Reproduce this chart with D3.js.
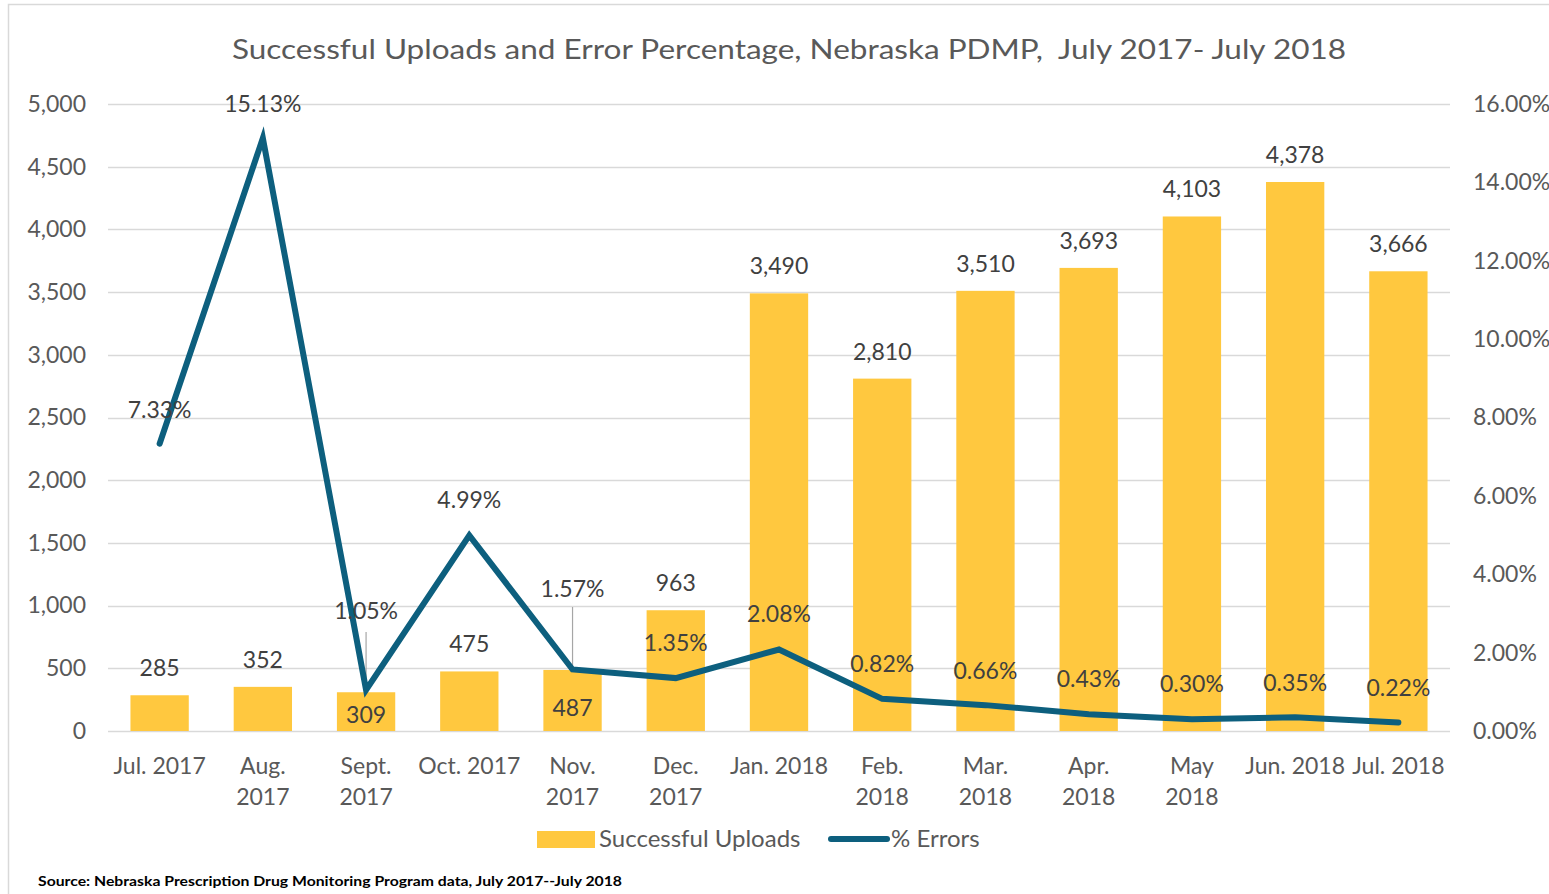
<!DOCTYPE html>
<html>
<head>
<meta charset="utf-8">
<script src="https://cdn.jsdelivr.net/npm/d3@7"></script>
<style>
  html, body { margin: 0; padding: 0; background: #fff; }
  svg { display: block; font-family: Lato, "Noto Sans", sans-serif; }
  .pre { white-space: pre; }
</style>
</head>
<body>
<svg id="chart" width="1549" height="894"></svg>
<script>
// ---- data ----
const categories = ["Jul. 2017","Aug. 2017","Sept. 2017","Oct. 2017","Nov. 2017","Dec. 2017","Jan. 2018","Feb. 2018","Mar. 2018","Apr. 2018","May 2018","Jun. 2018","Jul. 2018"];
const categoryLines = [["Jul. 2017"],["Aug.","2017"],["Sept.","2017"],["Oct. 2017"],["Nov.","2017"],["Dec.","2017"],["Jan. 2018"],["Feb.","2018"],["Mar.","2018"],["Apr.","2018"],["May","2018"],["Jun. 2018"],["Jul. 2018"]];
const uploads = [285, 352, 309, 475, 487, 963, 3490, 2810, 3510, 3693, 4103, 4378, 3666];
const errorPct = [7.33, 15.13, 1.05, 4.99, 1.57, 1.35, 2.08, 0.82, 0.66, 0.43, 0.30, 0.35, 0.22];
const uploadLabelInside = [false, false, true, false, true, false, false, false, false, false, false, false, false];
const leftTicks = [0, 500, 1000, 1500, 2000, 2500, 3000, 3500, 4000, 4500, 5000];
const rightTicks = [0, 2, 4, 6, 8, 10, 12, 14, 16];
const titleText = "Successful Uploads and Error Percentage, Nebraska PDMP,  July 2017- July 2018";
const sourceText = "Source: Nebraska Prescription Drug Monitoring Program data, July 2017--July 2018";

// ---- layout ----
const svg = d3.select("#chart");
const plot = { left: 108, right: 1450, top: 104, bottom: 731 };
const barColor = "#FFC83F";
const lineColor = "#0D5F7E";
const textColor = "#595959";
const labelColor = "#404040";
const fs = "23px";

// frame
svg.append("rect").attr("x", 8.5).attr("y", 4.5).attr("width", 1560).attr("height", 920)
  .attr("fill", "none").attr("stroke", "#d9d9d9").attr("stroke-width", 1.5);

const x = d3.scaleBand().domain(categories).range([plot.left, plot.right]).paddingInner(0.435).paddingOuter(0.2175);
const yL = d3.scaleLinear().domain([0, 5000]).range([plot.bottom, plot.top]);
const yR = d3.scaleLinear().domain([0, 16]).range([plot.bottom, plot.top]);
const cx = c => x(c) + x.bandwidth() / 2;

// title
svg.append("text").attr("class", "pre").attr("x", 789).attr("y", 59).attr("text-anchor", "middle")
  .attr("fill", textColor).style("font-size", "26px")
  .attr("textLength", 1114).attr("lengthAdjust", "spacingAndGlyphs")
  .text(titleText);

// gridlines
svg.append("g").selectAll("line").data(leftTicks).join("line")
  .attr("x1", plot.left).attr("x2", plot.right)
  .attr("y1", d => Math.round(yL(d)) + 0.5).attr("y2", d => Math.round(yL(d)) + 0.5)
  .attr("stroke", "#d9d9d9").attr("stroke-width", 1.5);

// left axis
const fmt = d3.format(",");
const axL = svg.append("g").attr("transform", `translate(${plot.left - 22},0)`)
  .call(d3.axisLeft(yL).tickValues(leftTicks).tickFormat(fmt).tickSize(0).tickPadding(0));
axL.select(".domain").remove();
axL.selectAll("text").attr("fill", textColor).style("font-size", fs).style("font-family", "Lato, 'Noto Sans', sans-serif");

// right axis
const axR = svg.append("g").attr("transform", `translate(${plot.right + 23},0)`)
  .call(d3.axisRight(yR).tickValues(rightTicks).tickFormat(d => d.toFixed(2) + "%").tickSize(0).tickPadding(0));
axR.select(".domain").remove();
axR.selectAll("text").attr("fill", textColor).style("font-size", fs).style("font-family", "Lato, 'Noto Sans', sans-serif");

// bars
svg.append("g").selectAll("rect").data(categories).join("rect")
  .attr("x", d => x(d)).attr("width", x.bandwidth())
  .attr("y", (d, i) => yL(uploads[i])).attr("height", (d, i) => yL(0) - yL(uploads[i]))
  .attr("fill", barColor);

// x axis labels
const xl = svg.append("g");
categories.forEach((c, i) => {
  const t = xl.append("text").attr("x", cx(c)).attr("y", 774).attr("text-anchor", "middle")
    .attr("fill", textColor).style("font-size", fs);
  categoryLines[i].forEach((ln, j) => {
    t.append("tspan").attr("x", cx(c)).attr("dy", j === 0 ? 0 : 31).text(ln);
  });
});

// bar value labels
const insideOffset = [0, 0, 31, 0, 46, 0, 0, 0, 0, 0, 0, 0, 0];
svg.append("g").selectAll("text").data(categories).join("text")
  .attr("x", d => cx(d))
  .attr("y", (d, i) => uploadLabelInside[i] ? yL(uploads[i]) + insideOffset[i] : yL(uploads[i]) - 19)
  .attr("text-anchor", "middle").attr("fill", labelColor).style("font-size", fs)
  .text((d, i) => fmt(uploads[i]));

// leader lines for 1.05% and 1.57%
const leaders = [{ i: 2, top: 632 }, { i: 4, top: 607 }];
svg.append("g").selectAll("line").data(leaders).join("line")
  .attr("x1", d => cx(categories[d.i])).attr("x2", d => cx(categories[d.i]))
  .attr("y1", d => d.top).attr("y2", d => yR(errorPct[d.i]))
  .attr("stroke", "#a6a6a6").attr("stroke-width", 1.2);

// line
const line = d3.line().x((d, i) => cx(categories[i])).y(d => yR(d));
svg.append("path").datum(errorPct).attr("d", line)
  .attr("fill", "none").attr("stroke", lineColor).attr("stroke-width", 6)
  .attr("stroke-linejoin", "miter").attr("stroke-linecap", "round");

// line value labels (offsets above point)
const lineLabelOffset = [34, 34, 79, 35, 80, 35, 35, 35, 34, 35, 35, 34, 34];
svg.append("g").selectAll("text").data(categories).join("text")
  .attr("x", d => cx(d))
  .attr("y", (d, i) => yR(errorPct[i]) - lineLabelOffset[i] + 8)
  .attr("text-anchor", "middle").attr("fill", labelColor).style("font-size", fs)
  .text((d, i) => errorPct[i].toFixed(2) + "%");

// legend
const lg = svg.append("g");
lg.append("rect").attr("x", 537).attr("y", 831).attr("width", 58).attr("height", 17).attr("fill", barColor);
lg.append("text").attr("x", 599).attr("y", 847).attr("fill", textColor).style("font-size", "24px").text("Successful Uploads");
lg.append("line").attr("x1", 831).attr("x2", 887).attr("y1", 839).attr("y2", 839)
  .attr("stroke", lineColor).attr("stroke-width", 6).attr("stroke-linecap", "round");
lg.append("text").attr("x", 891).attr("y", 847).attr("fill", textColor).style("font-size", "24px").text("% Errors");

// source
svg.append("text").attr("x", 38).attr("y", 886).attr("fill", "#000").style("font-size", "13px")
  .style("font-weight", "bold").attr("textLength", 584).attr("lengthAdjust", "spacingAndGlyphs")
  .text(sourceText);
</script>
</body>
</html>
